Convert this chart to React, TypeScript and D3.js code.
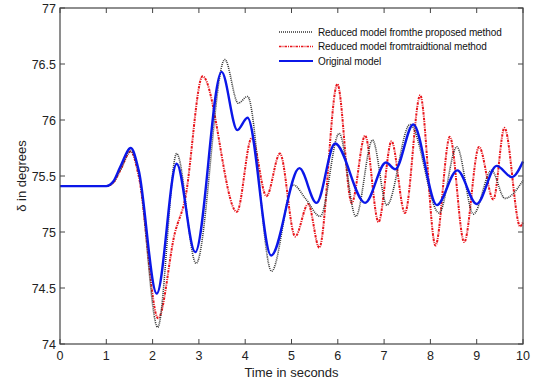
import { useEffect, useRef } from "react";
import * as d3 from "d3";

type Pt = [number, number];

// time (s), delta (deg) at key points
const originalModel: Pt[] = [
  [0, 75.41], [1.0, 75.41], [1.15, 75.45], [1.3, 75.58], [1.53, 75.75], [1.7, 75.55],
  [2.09, 74.45], [2.52, 75.61], [2.92, 74.82], [3.49, 76.43], [3.83, 75.91], [4.05, 76.02],
  [4.56, 74.79], [5.17, 75.57], [5.54, 75.26], [5.94, 75.79], [6.59, 75.26], [7.04, 75.62],
  [7.24, 75.56], [7.63, 75.96], [8.14, 75.24], [8.58, 75.55], [9.0, 75.25], [9.43, 75.59],
  [9.76, 75.49], [10, 75.63],
];

const proposedModel: Pt[] = [
  [0, 75.41], [1.0, 75.41], [1.15, 75.44], [1.3, 75.55], [1.53, 75.72], [1.7, 75.52],
  [2.11, 74.15], [2.52, 75.7], [2.94, 74.72], [3.56, 76.54], [3.85, 76.15], [4.05, 76.21],
  [4.57, 74.65], [5.04, 75.42], [5.3, 75.3], [5.62, 75.14], [6.03, 75.88], [6.39, 75.14],
  [6.75, 75.82], [7.06, 75.24], [7.56, 75.96], [8.19, 75.17], [8.57, 75.76], [8.93, 75.16],
  [9.32, 75.55], [9.61, 75.3], [10, 75.46],
];

const traditionalModel: Pt[] = [
  [0, 75.41], [1.0, 75.41], [1.15, 75.44], [1.3, 75.55], [1.53, 75.72], [1.7, 75.5],
  [2.12, 74.23], [2.48, 74.99], [2.7, 75.29], [3.08, 76.39], [3.82, 75.18], [4.14, 75.84],
  [4.46, 75.32], [4.75, 75.7], [5.08, 74.96], [5.36, 75.25], [5.6, 74.86], [5.99, 76.32],
  [6.3, 75.26], [6.59, 75.86], [6.88, 75.09], [7.16, 75.81], [7.45, 75.17], [7.78, 76.22],
  [8.11, 74.88], [8.42, 75.85], [8.73, 74.91], [9.05, 75.76], [9.36, 75.29], [9.6, 75.93],
  [9.94, 75.05], [10, 75.09],
];

const xTicks = [0, 1, 2, 3, 4, 5, 6, 7, 8, 9, 10];
const yTicks = [74, 74.5, 75, 75.5, 76, 76.5, 77];
const legendLabels = [
  "Reduced model fromthe proposed method",
  "Reduced model fromtraidtional method",
  "Original model",
];

const FONT = "Liberation Sans, Arial, sans-serif";

export default function App() {
  const ref = useRef<SVGSVGElement>(null);
  useEffect(() => {
    if (!ref.current) return;
    const svg = d3.select(ref.current);
    svg.selectAll("*").remove();
    const W = 535, H = 382;
    const m = { l: 60, r: 12, t: 8, b: 38 };
    const x = d3.scaleLinear().domain([0, 10]).range([m.l, W - m.r]);
    const y = d3.scaleLinear().domain([74, 77]).range([H - m.b, m.t]);

    svg.append("rect").attr("width", W).attr("height", H).attr("fill", "#fff");

    const line = d3.line<Pt>()
      .x((d) => x(d[0]))
      .y((d) => y(d[1]))
      .curve(d3.curveMonotoneX);

    const series = [
      { data: traditionalModel, color: "#e8151b", width: 2, dash: "2.5,1,1,1" },
      { data: proposedModel, color: "#333", width: 1.6, dash: "1,1" },
      { data: originalModel, color: "#0b17e8", width: 2.4, dash: null as string | null },
    ];
    const gLines = svg.append("g");
    series.forEach((s) => {
      gLines.append("path")
        .datum(s.data)
        .attr("fill", "none")
        .attr("stroke", s.color)
        .attr("stroke-width", s.width)
        .attr("stroke-dasharray", s.dash)
        .attr("d", line);
    });

    // axes box
    const axisColor = "#444";
    svg.append("rect")
      .attr("x", x(0)).attr("y", y(77))
      .attr("width", x(10) - x(0)).attr("height", y(74) - y(77))
      .attr("fill", "none").attr("stroke", axisColor).attr("stroke-width", 1.2);

    const tl = 5;
    xTicks.forEach((t) => {
      svg.append("line").attr("x1", x(t)).attr("x2", x(t)).attr("y1", y(74)).attr("y2", y(74) - tl)
        .attr("stroke", axisColor);
      svg.append("line").attr("x1", x(t)).attr("x2", x(t)).attr("y1", y(77)).attr("y2", y(77) + tl)
        .attr("stroke", axisColor);
      svg.append("text").attr("x", x(t)).attr("y", y(74) + 16)
        .attr("text-anchor", "middle").attr("font-family", FONT).attr("font-size", 12.5)
        .attr("fill", "#222").text(t);
    });
    yTicks.forEach((t) => {
      svg.append("line").attr("x1", x(0)).attr("x2", x(0) + tl).attr("y1", y(t)).attr("y2", y(t))
        .attr("stroke", axisColor);
      svg.append("line").attr("x1", x(10)).attr("x2", x(10) - tl).attr("y1", y(t)).attr("y2", y(t))
        .attr("stroke", axisColor);
      svg.append("text").attr("x", x(0) - 4).attr("y", y(t) + 4.5)
        .attr("text-anchor", "end").attr("font-family", FONT).attr("font-size", 12.5)
        .attr("fill", "#222").text(t);
    });

    svg.append("text").attr("x", (x(0) + x(10)) / 2).attr("y", H - 5)
      .attr("text-anchor", "middle").attr("font-family", FONT).attr("font-size", 13)
      .attr("fill", "#222").text("Time in seconds");
    svg.append("text")
      .attr("transform", `translate(26,${(y(74) + y(77)) / 2}) rotate(-90)`)
      .attr("text-anchor", "middle").attr("font-family", FONT).attr("font-size", 13)
      .attr("fill", "#222").text("δ in degrees");

    // legend
    const legendSeries = [series[1], series[0], series[2]];
    legendSeries.forEach((s, i) => {
      const ly = 32 + i * 14.5;
      svg.append("line").attr("x1", 279).attr("x2", 313).attr("y1", ly).attr("y2", ly)
        .attr("stroke", s.color).attr("stroke-width", s === series[2] ? 2 : 1.4)
        .attr("stroke-dasharray", s.dash);
      svg.append("text").attr("x", 318).attr("y", ly + 3.6)
        .attr("font-family", FONT).attr("font-size", 10).attr("fill", "#111")
        .attr("letter-spacing", -0.1)
        .text(legendLabels[i]);
    });
  }, []);
  return (
    <svg
      ref={ref}
      width={535}
      height={382}
      style={{ position: "absolute", left: 0, top: 0, display: "block" }}
    />
  );
}
